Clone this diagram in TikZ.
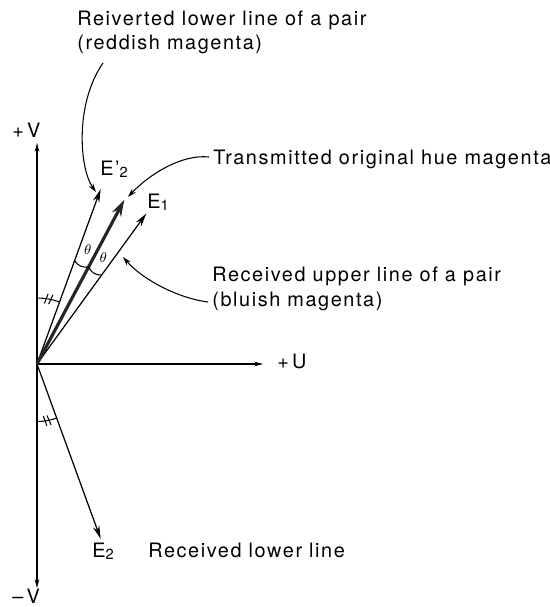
\documentclass[tikz,border=0pt]{standalone}
\usepackage{fontspec}
\setmainfont[LetterSpace=8]{TeX Gyre Heros}
\usepackage{tikz}
\usetikzlibrary{positioning, arrows.meta, calc}

\newcommand{\sub}[1]{\raisebox{-0.25ex}{\fontsize{8.3}{8.3}\selectfont #1}}

\begin{document}
\begin{tikzpicture}[
    txt/.style={font=\fontsize{11.3}{13.7}\selectfont, inner sep=0pt, align=left},
    axis/.style={-{Stealth[length=5pt, width=2.6pt]}, line width=0.6pt},
    vec/.style={-{Stealth[length=7.5pt, width=3.8pt]}, line width=0.7pt},
    mainvec/.style={-{Stealth[length=9.5pt, width=5.8pt]}, line width=1.8pt, black!85},
    leader/.style={-{Stealth[length=5pt, width=3pt]}, line width=0.6pt},
    anglemark/.style={line width=0.6pt},
    thetalabel/.style={font=\footnotesize, inner sep=0pt}
]

\useasboundingbox (-0.74,-4.86) rectangle (10.26,7.28);

% === Axes ===
\coordinate (O) at (0,0);
\coordinate (vtop) at (0,4.42);
\coordinate (vbot) at (0,-4.48);
\coordinate (uend) at (4.52,0);

\draw[axis] (O) -- (vtop);
\draw[axis] (O) -- (vbot);
\draw[axis] (O) -- (uend);

\node[txt, anchor=base west] (plusv) at (-0.5,4.54) {+\,V};
\node[txt, anchor=base west] (minusv) at (-0.5,-4.78) {--\,V};
\node[txt, anchor=base west] (plusu) at (4.8,-0.08) {+\,U};

% === Vectors ===
\coordinate (e2p) at (70:3.72);
\coordinate (trans) at (62:3.72);
\coordinate (e1) at (54:3.72);
\coordinate (e2) at (-70:3.72);

\draw[vec] (O) -- (e2p);
\draw[vec] (O) -- (e1);
\draw[vec] (O) -- (e2);
\draw[mainvec] (O) -- (trans);

\node[txt, anchor=base west] (e2plab) at (1.26,3.78) {E'\sub{2}};
\node[txt, anchor=base west] (e1lab) at (2.2,3.12) {E\sub{1}};
\node[txt, anchor=base west] (e2lab) at (1.1,-3.86) {E\sub{2}};

% === Angle marks ===
\draw[anglemark] (70:2.2) to[bend right=35] (62:2.2);
\draw[anglemark] (62:2.2) to[bend right=35] (54:2.2);
\node[thetalabel] (th1) at (66:2.5) {$\theta$};
\node[thetalabel] (th2) at (58:2.5) {$\theta$};

\draw[anglemark] (90:1.32) arc[start angle=90, end angle=70, radius=1.32];
\draw[anglemark] (83:1.22) -- (81:1.42);
\draw[anglemark] (79:1.22) -- (77:1.42);
\draw[anglemark] (-90:1.15) arc[start angle=-90, end angle=-70, radius=1.15];
\draw[anglemark] (-83:1.05) -- (-81:1.25);
\draw[anglemark] (-79:1.05) -- (-77:1.25);

% === Captions and leaders ===
\node[txt, anchor=north west] (revert) at (0.8,7.06)
    {Reiverted lower line of a pair\\(reddish magenta)};
\node[txt, anchor=base west] (transtxt) at (3.52,4.0)
    {Transmitted original hue magenta};
\node[txt, anchor=base west] (upper) at (3.5,1.16)
    {Received upper line of a pair\\(bluish magenta)};
\node[txt, anchor=base west] (lower) at (2.22,-3.86)
    {Received lower line};

\coordinate (revfrom) at (1.32,6.02);
\coordinate (revto) at (1.18,3.44);
\coordinate (transfrom) at (3.44,4.14);
\coordinate (transto) at (1.82,3.34);
\coordinate (upfrom) at (3.42,1.24);
\coordinate (upto) at (1.72,2.14);

\draw[leader] (revfrom) .. controls (0.75,5.2) and (0.85,3.9) .. (revto);
\draw[leader] (transfrom) .. controls (2.9,4.2) and (2.25,3.8) .. (transto);
\draw[leader] (upfrom) .. controls (2.8,1.32) and (2.1,1.7) .. (upto);

\end{tikzpicture}
\end{document}
